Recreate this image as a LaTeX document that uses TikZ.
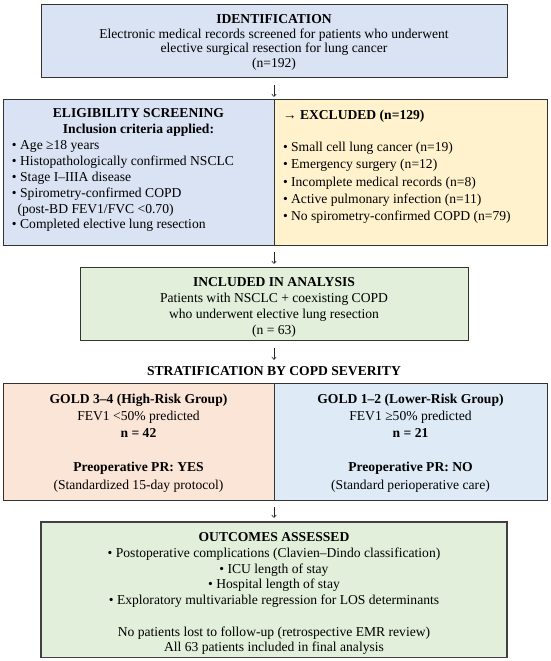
\documentclass[tikz,border=0pt]{standalone}
\usepackage{fontspec}
\setmainfont{Liberation Serif}
\usetikzlibrary{arrows.meta}
\definecolor{bluefill}{HTML}{DAE3F3}
\definecolor{yellowfill}{HTML}{FFF2CC}
\definecolor{greenfill}{HTML}{E2EFDA}
\definecolor{peachfill}{HTML}{FBE5D6}
\definecolor{paleblue}{HTML}{DEEBF7}
\definecolor{edgec}{HTML}{333333}
\newcommand{\fsz}[1]{\fontsize{13.6}{#1}\selectfont}
\begin{document}
\begin{tikzpicture}[x=1pt,y=-1pt,
  box/.style={draw=edgec,line width=1pt,inner sep=0pt,outer sep=0pt},
  conn/.style={line width=0.6pt,draw=black!85,-{Straight Barb[length=2.5pt,width=4.5pt]}}]
\useasboundingbox (0,0) rectangle (550,661);
\fill[white] (0,0) rectangle (550,661);

\node[box,fill=bluefill] (ident) at (274,41.25) {\parbox[c][72.5pt][c]{466pt}{\vspace*{2pt}\fsz{14.6}\centering
  \textbf{IDENTIFICATION}\\
  Electronic medical records screened for patients who underwent\\
  elective surgical resection for lung cancer\\
  (n=192)\par}};

\node[box,fill=bluefill] (elig) at (138.5,172.25) {\parbox[c][145.5pt][c]{271pt}{\fsz{15.9}%
  {\centering\bfseries ELIGIBILITY SCREENING\\Inclusion criteria applied:\par}%
  {\raggedright\leftskip=9pt\relax
  • Age ≥18 years\\
  • Histopathologically confirmed NSCLC\\
  • Stage I–IIIA disease\\
  • Spirometry-confirmed COPD\\
  \hspace*{5.5pt}(post-BD FEV1/FVC <0.70)\\
  • Completed elective lung resection\par}\vspace{4pt}}};

\node[box,fill=yellowfill] (excl) at (410.5,172.25) {\parbox[c][145.5pt][t]{273pt}{\vspace*{10.5pt}\fsz{17.2}%
  {\raggedright\leftskip=9pt\relax
  → \textbf{EXCLUDED (n=129)}\\[15pt]
  • Small cell lung cancer (n=19)\\
  • Emergency surgery (n=12)\\
  • Incomplete medical records (n=8)\\
  • Active pulmonary infection (n=11)\\
  • No spirometry-confirmed COPD (n=79)\par}}};

\node[box,fill=greenfill] (incl) at (274,303.5) {\parbox[c][73pt][c]{388pt}{\vspace*{7pt}\fsz{16}\centering
  \textbf{INCLUDED IN ANALYSIS}\\
  Patients with NSCLC + coexisting COPD\\
  who underwent elective lung resection\\
  (n = 63)\par}};

\node[inner sep=0pt,font=\fsz{16}\bfseries] (strat) at (274,370.7) {STRATIFICATION BY COPD SEVERITY};

\node[box,fill=peachfill] (gold34) at (138.5,441.5) {\parbox[c][117pt][c]{271pt}{\vspace*{3pt}\fsz{17.2}\centering
  \textbf{GOLD 3–4 (High-Risk Group)}\\
  FEV1 <50\% predicted\\
  \textbf{n = 42}\\[17pt]
  \textbf{Preoperative PR: YES}\\
  (Standardized 15-day protocol)\par}};

\node[box,fill=paleblue] (gold12) at (410.5,441.5) {\parbox[c][117pt][c]{273pt}{\vspace*{3pt}\fsz{17.2}\centering
  \textbf{GOLD 1–2 (Lower-Risk Group)}\\
  FEV1 ≥50\% predicted\\
  \textbf{n = 21}\\[17pt]
  \textbf{Preoperative PR: NO}\\
  (Standard perioperative care)\par}};

\node[box,fill=greenfill,line width=1.8pt,draw=black!75] (out) at (274,589.75) {\parbox[c][135.5pt][c]{466pt}{\vspace*{8pt}\fsz{15.7}\centering
  \textbf{OUTCOMES ASSESSED}\\
  • Postoperative complications (Clavien–Dindo classification)\\
  • ICU length of stay\\
  • Hospital length of stay\\
  • Exploratory multivariable regression for LOS determinants\\[15.7pt]
  No patients lost to follow-up (retrospective EMR review)\\
  All 63 patients included in final analysis\par}};

\draw[conn,shorten <=7.5pt,shorten >=2.5pt] (ident.south) -- (elig.north east);
\draw[conn,shorten <=7pt,shorten >=3pt] (elig.south east) -- (incl.north);
\draw[conn,shorten <=8pt,shorten >=6pt] (incl.south) -- (strat.north);
\draw[conn,shorten <=7pt,shorten >=4pt] (gold34.south east) -- (out.north);
\end{tikzpicture}
\end{document}
